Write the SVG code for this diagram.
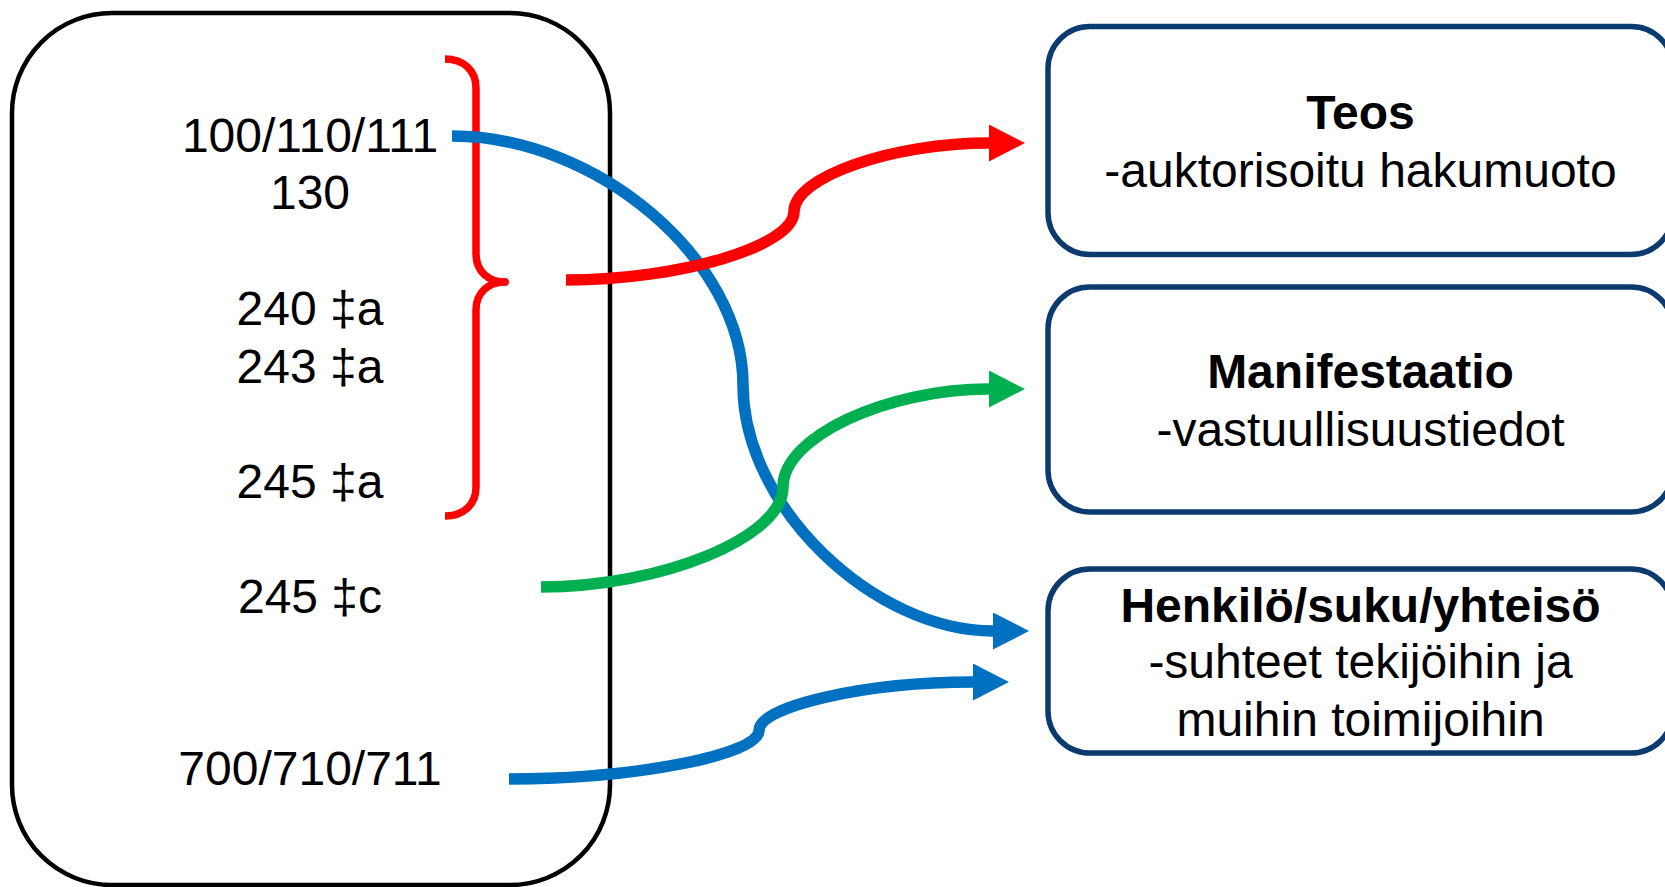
<svg xmlns="http://www.w3.org/2000/svg" width="1665" height="887" viewBox="0 0 1665 887">
  <style>
    .t { font-family: "Liberation Sans", Arial, sans-serif; font-size: 48px; fill: #000; text-anchor: middle; }
    .b { font-weight: bold; }
    .src { fill: #fff; stroke: #000; stroke-width: 4.5; }
    .ent { fill: #fff; stroke: #0B3B6E; stroke-width: 5.5; }
    .con { fill: none; stroke-width: 11.5; stroke-linecap: butt; }
  </style>
  <defs>
    <marker id="ar-red" markerUnits="userSpaceOnUse" markerWidth="38" markerHeight="38" refX="0" refY="18.5" orient="auto">
      <path d="M0,0 L36,18.5 L0,37 Z" fill="#FF0000"/>
    </marker>
    <marker id="ar-green" markerUnits="userSpaceOnUse" markerWidth="38" markerHeight="38" refX="0" refY="18.5" orient="auto">
      <path d="M0,0 L36,18.5 L0,37 Z" fill="#00B050"/>
    </marker>
    <marker id="ar-blue" markerUnits="userSpaceOnUse" markerWidth="38" markerHeight="38" refX="0" refY="18.5" orient="auto">
      <path d="M0,0 L36,18.5 L0,37 Z" fill="#0070C0"/>
    </marker>
  </defs>

  <g id="marc-fields">
    <rect class="src" x="12" y="13" width="598" height="872" rx="100" ry="100"/>
    <text class="t" x="310" y="152">100/110/111</text>
    <text class="t" x="310" y="209">130</text>
    <text class="t" x="310" y="325">240 ‡a</text>
    <text class="t" x="310" y="383">243 ‡a</text>
    <text class="t" x="310" y="498">245 ‡a</text>
    <text class="t" x="310" y="613">245 ‡c</text>
    <text class="t" x="310" y="785">700/710/711</text>
  </g>

  <g id="brace">
    <path d="M445,59 C463,59 476,70 476,88 L476,254 C476,272 489,282 505,282 C489,282 476,292 476,310 L476,487 C476,505 463,516 445,516" fill="none" stroke="#FF0000" stroke-width="7.5" stroke-linecap="butt" stroke-linejoin="round"/>
    <circle cx="505" cy="282" r="3.75" fill="#FF0000"/>
  </g>

  <g id="teos">
    <rect class="ent" x="1048" y="26.5" width="625" height="228" rx="42" ry="42"/>
    <text class="t b" x="1360.5" y="129">Teos</text>
    <text class="t" x="1360.5" y="187">-auktorisoitu hakumuoto</text>
  </g>

  <g id="manifestaatio">
    <rect class="ent" x="1048" y="287" width="625" height="225" rx="42" ry="42"/>
    <text class="t b" x="1360.5" y="388">Manifestaatio</text>
    <text class="t" x="1360.5" y="446">-vastuullisuustiedot</text>
  </g>

  <g id="henkilo">
    <rect class="ent" x="1048" y="569" width="625" height="184" rx="42" ry="42"/>
    <text class="t b" x="1360.5" y="622">Henkilö/suku/yhteisö</text>
    <text class="t" x="1360.5" y="678">-suhteet tekijöihin ja</text>
    <text class="t" x="1360.5" y="736">muihin toimijoihin</text>
  </g>

  <g id="connectors">
    <path class="con" stroke="#0070C0" d="M452,136 C597,136 743,260 743,385 C743,508 875,631 993,631" marker-end="url(#ar-blue)"/>
    <path class="con" stroke="#FF0000" d="M566,280 C680,280 794,246 794,211.5 C794,177 892,143 989,143" marker-end="url(#ar-red)"/>
    <path class="con" stroke="#00B050" d="M541,587 C662,587 783,537 783,487 C783,437 886,389 989,389" marker-end="url(#ar-green)"/>
    <path class="con" stroke="#0070C0" d="M509,779 C634,779 759,755 759,730.5 C759,706 866,682 973,682" marker-end="url(#ar-blue)"/>
  </g>
</svg>
